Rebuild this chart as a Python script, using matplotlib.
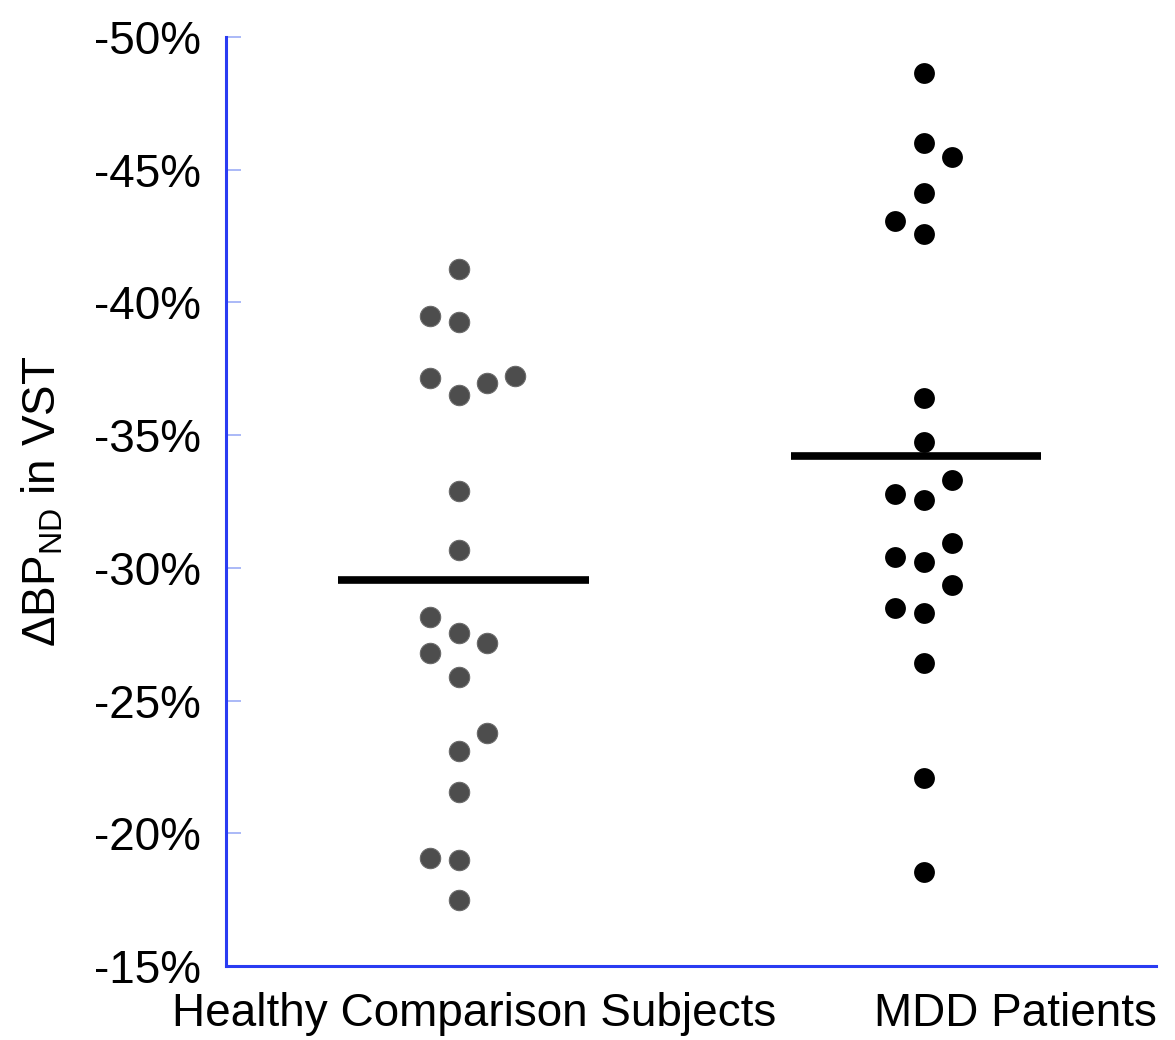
import matplotlib
matplotlib.use("Agg")
import matplotlib.pyplot as plt
import numpy as np

plt.rcParams['font.family'] = ['Liberation Sans', 'DejaVu Sans']
plt.rcParams['mathtext.fontset'] = 'custom'
plt.rcParams['mathtext.rm'] = 'Liberation Sans'

# Change in BP_ND (%)
healthy = [-41.25, -39.49, -39.27, -37.14, -36.51, -36.98, -37.23, -32.90,
           -30.67, -28.14, -27.54, -27.18, -26.78, -25.90, -23.77, -23.10,
           -21.57, -19.06, -18.99, -17.49]
mdd = [-48.63, -46.02, -45.47, -44.14, -43.08, -42.58, -36.41, -34.76,
       -32.78, -32.56, -33.31, -30.40, -30.23, -30.93, -29.36, -28.48,
       -28.29, -26.41, -22.07, -18.55]

# swarm column of each point (left/right of the group centre)
healthy_slot = [0, -1, 0, -1, 0, 1, 2, 0, 0, -1, 0, 1, -1, 0, 1, 0, 0, -1, 0, 0]
mdd_slot = [0, 0, 1, 0, -1, 0, 0, 0, -1, 0, 1, -1, 0, 1, 1, -1, 0, 0, 0, 0]

groups = ["Healthy Comparison Subjects", "MDD Patients"]
yticks = [-50, -45, -40, -35, -30, -25, -20, -15]
ytick_labels = ["-50%", "-45%", "-40%", "-35%", "-30%", "-25%", "-20%", "-15%"]

fig = plt.figure(figsize=(11.75, 10.4), dpi=100)
ax = fig.add_axes([226 / 1175, 1 - 966 / 1040, 930 / 1175, 929 / 1040])

step = 0.0603
ax.scatter(1 + step * np.array(healthy_slot), healthy, s=215, color='#4d4d4d',
           edgecolors='#6a6a6a', linewidths=0.8, zorder=3)
ax.scatter(2 + step * np.array(mdd_slot), mdd, s=225, color='black',
           linewidths=0, zorder=3)

# group means
ax.hlines(np.mean(healthy), 0.741, 1.280, color='black', lw=5.5, zorder=2)
ax.hlines(np.mean(mdd), 1.716, 2.252, color='black', lw=5.5, zorder=2)

ax.set_xlim(0.5, 2.5)
ax.set_ylim(-15, -50)
ax.set_yticks(yticks)
ax.set_yticklabels(ytick_labels, fontsize=33)
ax.set_xticks([1.034, 2.198])
ax.set_xticklabels(groups, fontsize=33)

for side in ['top', 'right']:
    ax.spines[side].set_visible(False)
for side in ['left', 'bottom']:
    ax.spines[side].set_color('#2a3cf2')
    ax.spines[side].set_linewidth(2.2)

ax.tick_params(axis='y', direction='in', length=10.5, width=1.3,
               color='#a4b3f7', pad=18)
ax.tick_params(axis='x', length=0, pad=19)

ax.set_ylabel(r'$\Delta$BP$_\mathregular{ND}$ in VST', fontsize=33, va='center')
ax.yaxis.set_label_coords(-0.197, 0.5)

fig.savefig("out.png", dpi=100)
